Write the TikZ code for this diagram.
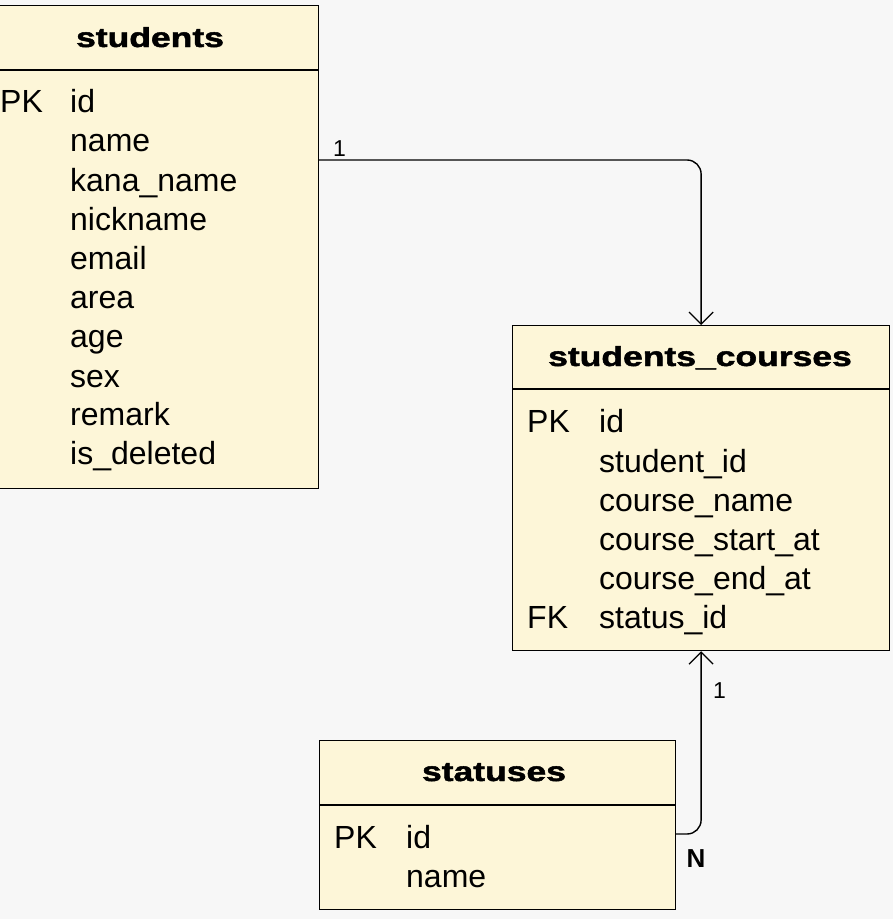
\documentclass[tikz,border=0pt]{standalone}
\usepackage{fontspec}
\usepackage{graphicx}
\setmainfont{Liberation Sans}
\newfontfamily\ttlfont[BoldFeatures={FakeBold=1.6}]{Liberation Sans}
\usetikzlibrary{arrows.meta}
\definecolor{bg}{HTML}{F7F7F7}
\definecolor{tblfill}{HTML}{FDF6D8}
\newcommand{\wide}[1]{\scalebox{1.29}[1]{#1}}
\begin{document}
\begin{tikzpicture}[x=1pt,y=-1pt,
  tbl/.style={draw=black,line width=1.2pt,fill=tblfill,anchor=north west,inner sep=0pt},
  ttl/.style={font=\ttlfont\fontsize{27.5}{27.5}\selectfont\bfseries,anchor=base,inner sep=0pt},
  fld/.style={font=\fontsize{32}{32}\selectfont,anchor=base west,inner sep=0pt},
  lbl/.style={font=\fontsize{23}{23}\selectfont,anchor=base,inner sep=0pt},
  rel/.style={line width=1.4pt,rounded corners=14pt,-{Straight Barb[length=12pt,width=24pt,line width=1.3pt]}}]
\useasboundingbox[fill=bg] (0,0) rectangle (893,919);
% students
\node[tbl,minimum width=320,minimum height=483] (students) at (-2,5) {};
\draw[line width=1.2pt] (-2,70) -- (318,70);
\node[ttl] (studentsT) at (150,47) {\wide{students}};
\node[fld] (sPK) at (0,112) {PK};
\node[fld] (s1) at (70,112) {id};
\node[fld] (s2) at (70,151) {name};
\node[fld] (s3) at (70,191) {kana\_name};
\node[fld] (s4) at (70,230) {nickname};
\node[fld] (s5) at (70,269) {email};
\node[fld] (s6) at (70,308) {area};
\node[fld] (s7) at (70,347) {age};
\node[fld] (s8) at (70,387) {sex};
\node[fld] (s9) at (70,425) {remark};
\node[fld] (s10) at (70,464) {is\_deleted};
% students_courses
\node[tbl,minimum width=377,minimum height=325] (sc) at (512,325) {};
\draw[line width=1.2pt] (512,389) -- (889,389);
\node[ttl] (scT) at (700,366) {\wide{students\_courses}};
\node[fld] (cPK) at (527,432) {PK};
\node[fld] (c1) at (599,432) {id};
\node[fld] (c2) at (599,472) {student\_id};
\node[fld] (c3) at (599,511) {course\_name};
\node[fld] (c4) at (599,550) {course\_start\_at};
\node[fld] (c5) at (599,589) {course\_end\_at};
\node[fld] (cFK) at (527,628) {FK};
\node[fld] (c6) at (599,628) {status\_id};
% statuses
\node[tbl,minimum width=356,minimum height=169] (st) at (319,740) {};
\draw[line width=1.2pt] (319,805) -- (675,805);
\node[ttl] (stT) at (494,781) {\wide{statuses}};
\node[fld] (tPK) at (334,848) {PK};
\node[fld] (t1) at (406,848) {id};
\node[fld] (t2) at (406,887) {name};
% relations
\draw[rel] ([yshift=-155pt]students.north east) -| (sc.north);
\draw[rel] ([yshift=-94pt]st.north east) -| (sc.south);
\node[lbl] (l1) at (339.5,156) {1};
\node[lbl] (l2) at (719.5,698) {1};
\node[lbl,font=\fontsize{26}{26}\selectfont\bfseries] (l3) at (696,867) {N};
\end{tikzpicture}
\end{document}
